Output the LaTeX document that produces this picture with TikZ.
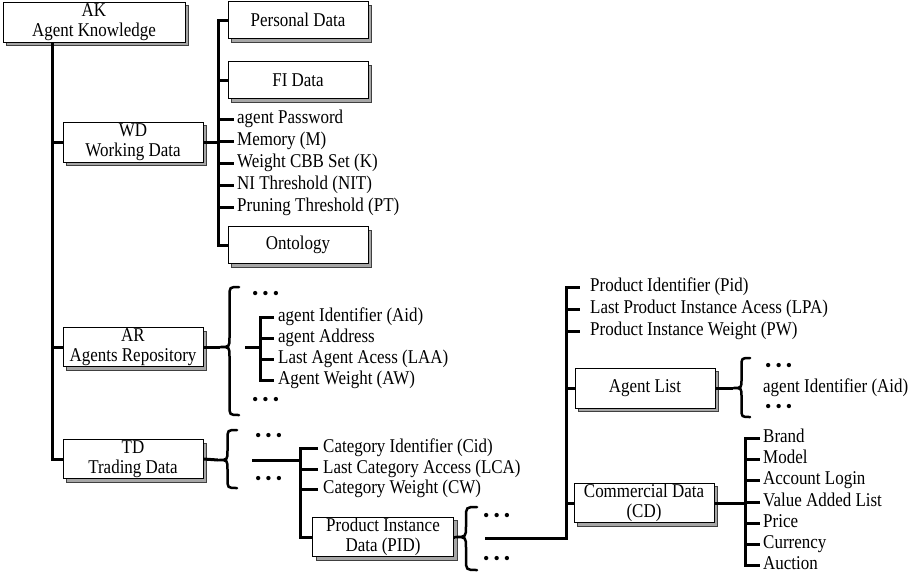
\documentclass[tikz,border=0pt]{standalone}
\usepackage{fontspec}
\setmainfont{Liberation Serif}
\usetikzlibrary{shadows}
\newcommand\dfont{\fontsize{19.5}{20}\selectfont}
\newcommand\sq[1]{\scalebox{0.87}[1]{#1}}
\newcommand\curlyL[5]{% tip x, right x, top y, tip y, bottom y
  \draw[brc] (#2,#3) .. controls ({(#1+#2)/2},#3) .. ({(#1+#2)/2},{#3+(#2-#1)/2})
    -- ({(#1+#2)/2},{#4-(#2-#1)/2}) .. controls ({(#1+#2)/2},#4) .. (#1,#4)
    .. controls ({(#1+#2)/2},#4) .. ({(#1+#2)/2},{#4+(#2-#1)/2})
    -- ({(#1+#2)/2},{#5-(#2-#1)/2}) .. controls ({(#1+#2)/2},#5) .. (#2,#5);}
\tikzset{
  box/.style={draw=black, line width=1pt, fill=white, minimum width=140pt,
    minimum height=37pt, inner sep=1pt, align=center, font=\dfont,
    general shadow={fill=gray!70, draw=black!75, line width=0.6pt,
      shadow xshift=3.5pt, shadow yshift=-3.5pt}},
  item/.style={anchor=west, inner sep=0pt, font=\dfont, text height=13pt, text depth=4pt},
  dots/.style={anchor=west, inner sep=0pt, font=\fontsize{18}{18}\selectfont},
  conn/.style={line width=3pt, line join=miter},
  brc/.style={line width=2.5pt, line cap=round}
}
\newcommand\dd{\textbullet\hspace{4pt}\textbullet\hspace{4pt}\textbullet}
\begin{document}
\begin{tikzpicture}[x=1pt,y=-1pt]
\useasboundingbox (0,0) rectangle (921,576);
% boxes
\node[box, minimum width=182pt, minimum height=40pt] (ak) at (94,22) {\sq{AK}\\\sq{Agent Knowledge}};
\node[box, minimum height=40pt] (wd) at (133,142) {\sq{WD}\\\sq{Working Data}};
\node[box] (pd) at (298,20) {\sq{Personal Data}};
\node[box] (fi) at (298,80) {\sq{FI Data}};
\node[box] (on) at (298,245) {\sq{Ontology}};
\node[box, minimum height=39pt] (ar) at (133,347) {\sq{AR}\\\sq{Agents Repository}};
\node[box, minimum height=38pt] (td) at (133,459) {\sq{TD}\\\sq{Trading Data}};
\node[box, minimum width=141pt, minimum height=38pt] (pid) at (383,537) {\sq{Product Instance}\\\sq{Data (PID)}};
\node[box, minimum height=40pt] (al) at (645,388) {\sq{Agent List}};
\node[box, minimum height=39pt] (cd) at (644,503) {\sq{Commercial Data}\\\sq{(CD)}};
% trunk
\coordinate (t0) at (52,43);
\draw[conn] (t0) |- (td.west);
\draw[conn] (t0 |- wd.west) -- (wd.west);
\draw[conn] (t0 |- ar.west) -- (ar.west);
% working data
\coordinate (w0) at (218,0);
\node[item] (w1) at (237,119) {\sq{agent Password}};
\node[item] (w2) at (237,141) {\sq{Memory (M)}};
\node[item] (w3) at (237,163) {\sq{Weight CBB Set (K)}};
\node[item] (w4) at (237,185) {\sq{NI Threshold (NIT)}};
\node[item] (w5) at (237,207) {\sq{Pruning Threshold (PT)}};
\draw[conn] (wd.east) -- (w0 |- wd.east);
\draw[conn] (pd.west) -| (w0 |- on.west) -- (on.west);
\draw[conn] (w0 |- fi.west) -- (fi.west);
\foreach \n in {w1,w2,w3,w4,w5} \draw[conn] (w0 |- \n.west) -- ([xshift=-3pt]\n.west);
% agents repository
\coordinate (arb) at (220,347);
\draw[conn] (ar.east) -- (arb);
\curlyL{220}{239}{287}{347}{415}
\node[dots] (ard1) at (252,295) {\dd};
\node[dots] (ard2) at (252,401) {\dd};
\coordinate (arl) at (245,347);
\coordinate (arv) at (260,347);
\draw[conn] (arl) -- (arv);
\node[item] (a1) at (278,317) {\sq{agent Identifier (Aid)}};
\node[item] (a2) at (278,338) {\sq{agent Address}};
\node[item] (a3) at (278,359) {\sq{Last Agent Acess (LAA)}};
\node[item] (a4) at (278,380) {\sq{Agent Weight (AW)}};
\draw[conn] ([xshift=-4pt]a1.west) -| (arv |- a4.west) -- ([xshift=-4pt]a4.west);
\foreach \n in {a2,a3} \draw[conn] (arv |- \n.west) -- ([xshift=-4pt]\n.west);
% trading data
\coordinate (tdb) at (218,460);
\draw[conn] (td.east) -- (tdb);
\curlyL{218}{237}{430}{460}{488}
\node[dots] (tdd1) at (255,437) {\dd};
\node[dots] (tdd2) at (255,480) {\dd};
\coordinate (tdl) at (252,460);
\coordinate (tdv) at (300,460);
\draw[conn] (tdl) -- (tdv);
\node[item] (c1) at (323,448) {\sq{Category Identifier (Cid)}};
\node[item] (c2) at (323,469) {\sq{Last Category Access (LCA)}};
\node[item] (c3) at (323,489) {\sq{Category Weight (CW)}};
\draw[conn] ([xshift=-5pt]c1.west) -| (tdv |- pid.west) -- (pid.west);
\foreach \n in {c2,c3} \draw[conn] (tdv |- \n.west) -- ([xshift=-5pt]\n.west);
% product instance data
\coordinate (pb) at (455,537);
\draw[conn] (pid.east) -- (pb);
\curlyL{455}{477}{507}{537}{570}
\node[dots] (pdd1) at (483,517) {\dd};
\node[dots] (pdd2) at (483,560) {\dd};
\coordinate (pl) at (485,538);
\coordinate (pv) at (566,538);
\node[item] (p1) at (590,287) {\sq{Product Identifier (Pid)}};
\node[item] (p2) at (590,309) {\sq{Last Product Instance Acess (LPA)}};
\node[item] (p3) at (590,331) {\sq{Product Instance Weight (PW)}};
\draw[conn] (pl) -- (pv) -- (pv |- p1.west) -- ([xshift=-10pt]p1.west);
\foreach \n in {p2,p3} \draw[conn] (pv |- \n.west) -- ([xshift=-10pt]\n.west);
\draw[conn] (pv |- al.west) -- (al.west);
\draw[conn] (pv |- cd.west) -- (cd.west);
% agent list
\coordinate (alb) at (733,388);
\draw[conn] (al.east) -- (alb);
\curlyL{733}{750}{358}{388}{417}
\node[dots] (ald1) at (765,367) {\dd};
\node[item] (al1) at (763,388) {\sq{agent Identifier (Aid)}};
\node[dots] (ald2) at (765,408) {\dd};
% commercial data
\coordinate (cv) at (745,503);
\draw[conn] (cd.east) -- (cv);
\node[item] (b1) at (763,438) {\sq{Brand}};
\node[item] (b2) at (763,459) {\sq{Model}};
\node[item] (b3) at (763,480) {\sq{Account Login}};
\node[item] (b4) at (763,502) {\sq{Value Added List}};
\node[item] (b5) at (763,523) {\sq{Price}};
\node[item] (b6) at (763,544) {\sq{Currency}};
\node[item] (b7) at (763,565) {\sq{Auction}};
\draw[conn] ([xshift=-3pt]b1.west) -| (cv |- b7.west) -- ([xshift=-3pt]b7.west);
\foreach \n in {b2,b3,b4,b5,b6} \draw[conn] (cv |- \n.west) -- ([xshift=-3pt]\n.west);
\end{tikzpicture}
\end{document}
